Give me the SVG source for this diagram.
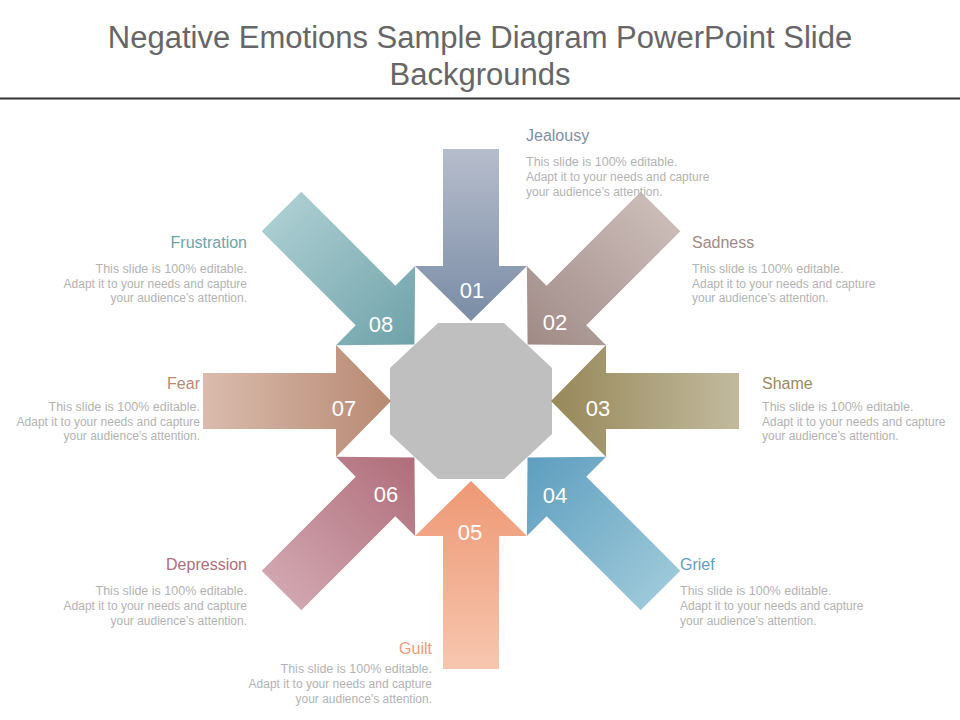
<svg xmlns="http://www.w3.org/2000/svg" width="960" height="720" viewBox="0 0 960 720">
<style>
.t{font-family:"Liberation Sans",Arial,sans-serif;font-size:31px;fill:#666;text-anchor:middle}
.h{font-family:"Liberation Sans",Arial,sans-serif;font-size:16px}
.b{font-family:"Liberation Sans",Arial,sans-serif;font-size:12px;fill:#b3b3b3}
.b1{font-size:12.5px}
.n{font-family:"Liberation Sans",Arial,sans-serif;font-size:22px;fill:#fff;text-anchor:middle}
.r{text-anchor:end}
</style>
<defs>
<polygon id="arr" points="-28,-268 28,-268 28,-135 56,-135 0,-80 -56,-135 -28,-135"/>
<linearGradient id="g1" x1="0" y1="0" x2="0" y2="1"><stop offset="0" stop-color="#b6bdcc"/><stop offset="1" stop-color="#7a8ca6"/></linearGradient>
<linearGradient id="g2" x1="0" y1="0" x2="0" y2="1"><stop offset="0" stop-color="#cbbcb8"/><stop offset="1" stop-color="#a08a86"/></linearGradient>
<linearGradient id="g3" x1="0" y1="0" x2="0" y2="1"><stop offset="0" stop-color="#c2ba9e"/><stop offset="1" stop-color="#978859"/></linearGradient>
<linearGradient id="g4" x1="0" y1="0" x2="0" y2="1"><stop offset="0" stop-color="#9cc8d9"/><stop offset="1" stop-color="#5e9ebf"/></linearGradient>
<linearGradient id="g5" x1="0" y1="0" x2="0" y2="1"><stop offset="0" stop-color="#f7c6af"/><stop offset="1" stop-color="#ee9874"/></linearGradient>
<linearGradient id="g6" x1="0" y1="0" x2="0" y2="1"><stop offset="0" stop-color="#d1a6b0"/><stop offset="1" stop-color="#af6d79"/></linearGradient>
<linearGradient id="g7" x1="0" y1="0" x2="0" y2="1"><stop offset="0" stop-color="#dabbad"/><stop offset="1" stop-color="#b88a73"/></linearGradient>
<linearGradient id="g8" x1="0" y1="0" x2="0" y2="1"><stop offset="0" stop-color="#aacdd1"/><stop offset="1" stop-color="#6fa2a9"/></linearGradient>
</defs>
<rect width="960" height="720" fill="#fff"/>
<text class="t" x="480" y="48">Negative Emotions Sample Diagram PowerPoint Slide</text>
<text class="t" x="480" y="85">Backgrounds</text>
<line x1="0" y1="98.5" x2="960" y2="98.5" stroke="#333" stroke-width="2"/>
<g id="center"><polygon points="438,323 504,323 552,368 552,434 504,479 438,479 390,434 390,368" fill="#bfbfbf"/></g>
<g id="connectors" transform="translate(471,401)">
<polygon points="-28,-252 28,-252 28,-135 56,-135 0,-80 -56,-135 -28,-135" fill="url(#g1)"/>
<use href="#arr" fill="url(#g2)" transform="rotate(45)"/>
<use href="#arr" fill="url(#g3)" transform="rotate(90)"/>
<use href="#arr" fill="url(#g4)" transform="rotate(135)"/>
<use href="#arr" fill="url(#g5)" transform="rotate(180)"/>
<use href="#arr" fill="url(#g6)" transform="rotate(225)"/>
<use href="#arr" fill="url(#g7)" transform="rotate(270)"/>
<use href="#arr" fill="url(#g8)" transform="rotate(315)"/>
</g>
<g id="n1"><text class="n" x="472" y="298">01</text>
<text class="h" x="526" y="141" fill="#7f8ea6">Jealousy</text>
<text class="b" x="526" y="166"><tspan class="b1">This slide is 100% editable.</tspan><tspan x="526" y="181">Adapt it to your needs and capture</tspan><tspan x="526" y="196">your audience’s attention.</tspan></text></g>
<g id="n2"><text class="n" x="555" y="330">02</text>
<text class="h" x="692" y="248" fill="#a08a86">Sadness</text>
<text class="b" x="692" y="273"><tspan class="b1">This slide is 100% editable.</tspan><tspan x="692" y="288">Adapt it to your needs and capture</tspan><tspan x="692" y="302">your audience’s attention.</tspan></text></g>
<g id="n3"><text class="n" x="598" y="416">03</text>
<text class="h" x="762" y="389" fill="#9a8a5e">Shame</text>
<text class="b" x="762" y="411"><tspan class="b1">This slide is 100% editable.</tspan><tspan x="762" y="426">Adapt it to your needs and capture</tspan><tspan x="762" y="440">your audience’s attention.</tspan></text></g>
<g id="n4"><text class="n" x="555" y="503">04</text>
<text class="h" x="680" y="570" fill="#5f9fbf">Grief</text>
<text class="b" x="680" y="595"><tspan class="b1">This slide is 100% editable.</tspan><tspan x="680" y="610">Adapt it to your needs and capture</tspan><tspan x="680" y="625">your audience’s attention.</tspan></text></g>
<g id="n5"><text class="n" x="470" y="540">05</text>
<text class="h r" x="432" y="654" fill="#ef9a78">Guilt</text>
<text class="b r" x="432" y="673"><tspan class="b1">This slide is 100% editable.</tspan><tspan x="432" y="688">Adapt it to your needs and capture</tspan><tspan x="432" y="703">your audience’s attention.</tspan></text></g>
<g id="n6"><text class="n" x="386" y="502">06</text>
<text class="h r" x="247" y="570" fill="#b06e7a">Depression</text>
<text class="b r" x="247" y="595"><tspan class="b1">This slide is 100% editable.</tspan><tspan x="247" y="610">Adapt it to your needs and capture</tspan><tspan x="247" y="625">your audience’s attention.</tspan></text></g>
<g id="n7"><text class="n" x="344" y="416">07</text>
<text class="h r" x="200" y="389" fill="#b88a74">Fear</text>
<text class="b r" x="200" y="411"><tspan class="b1">This slide is 100% editable.</tspan><tspan x="200" y="426">Adapt it to your needs and capture</tspan><tspan x="200" y="440">your audience’s attention.</tspan></text></g>
<g id="n8"><text class="n" x="381" y="332">08</text>
<text class="h r" x="247" y="248" fill="#6fa3aa">Frustration</text>
<text class="b r" x="247" y="273"><tspan class="b1">This slide is 100% editable.</tspan><tspan x="247" y="288">Adapt it to your needs and capture</tspan><tspan x="247" y="302">your audience’s attention.</tspan></text></g>
</svg>
